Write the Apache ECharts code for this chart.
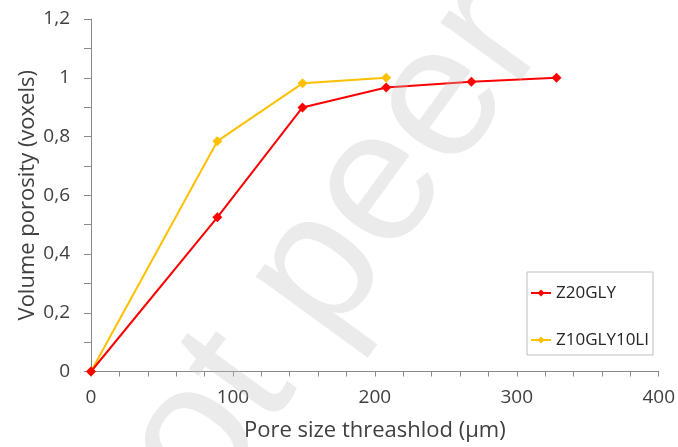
<!DOCTYPE html>
<html>
<head>
<meta charset="utf-8">
<script src="https://cdn.jsdelivr.net/npm/echarts@6/dist/echarts.min.js"></script>
<style>
html,body{margin:0;padding:0;background:#fff;}
#chart{width:678px;height:447px;}
</style>
</head>
<body>
<div id="chart"></div>
<script>
var seriesNames = ['Z20GLY', 'Z10GLY10LI'];
var z20X = [0, 89, 149, 208, 268, 328];
var z20Y = [0, 0.525, 0.899, 0.967, 0.986, 1.0];
var z10X = [0, 89, 149, 208];
var z10Y = [0, 0.784, 0.981, 1.0];
var xTicks = [0, 100, 200, 300, 400];
var yTicks = [0, 0.2, 0.4, 0.6, 0.8, 1.0, 1.2];
var xTitle = 'Pore size threashlod (µm)';
var yTitle = 'Volume porosity (voxels)';
var watermark = 'Not peer reviewed';

function pairs(xs, ys) { return xs.map(function (x, i) { return [x, ys[i]]; }); }

var font = 'Open Sans';
var wmSize = 188;
var chart = echarts.init(document.getElementById('chart'), null, {renderer: 'canvas'});
chart.setOption({
  animation: false,
  backgroundColor: '#ffffff',
  textStyle: {fontFamily: font},
  grid: {left: 91, right: 15, top: 19, bottom: 74.5, containLabel: false},
  legend: {
    orient: 'vertical',
    left: 527, top: 272,
    padding: [11, 4, 5, 3],
    itemGap: 27,
    itemWidth: 20, itemHeight: 9,
    borderColor: '#bfbfbf', borderWidth: 1,
    textStyle: {fontFamily: font, fontSize: 17, color: '#262626', lineHeight: 20},
    data: seriesNames
  },
  xAxis: {
    type: 'value', min: xTicks[0], max: xTicks[xTicks.length - 1], interval: 100,
    name: xTitle, nameLocation: 'middle', nameGap: 48.5, nameMoveOverlap: false,
    nameTextStyle: {fontFamily: font, fontSize: 22, color: '#404040'},
    axisLine: {show: true, lineStyle: {color: '#898989', width: 1}},
    axisTick: {show: true, inside: false, length: 5, lineStyle: {color: '#898989'}},
    minorTick: {show: true, splitNumber: 5, length: 5, lineStyle: {color: '#898989'}},
    splitLine: {show: false},
    axisLabel: {fontFamily: font, fontSize: 19, color: '#404040', margin: 17}
  },
  yAxis: {
    type: 'value', min: yTicks[0], max: yTicks[yTicks.length - 1], interval: 0.2,
    name: yTitle, nameLocation: 'middle', nameGap: 52, nameRotate: 90, nameMoveOverlap: false,
    nameTextStyle: {fontFamily: font, fontSize: 22, color: '#404040'},
    axisLine: {show: true, lineStyle: {color: '#898989', width: 1}},
    axisTick: {show: true, inside: false, length: 7, lineStyle: {color: '#898989'}},
    minorTick: {show: true, splitNumber: 2, length: 7, lineStyle: {color: '#898989'}},
    splitLine: {show: false},
    axisLabel: {fontFamily: font, fontSize: 19, color: '#404040', margin: 21,
      formatter: function (v) { return String(Math.round(v * 10) / 10).replace('.', ','); }}
  },
  series: [
    {
      name: seriesNames[0], type: 'line', data: pairs(z20X, z20Y),
      symbol: 'diamond', symbolSize: 10,
      lineStyle: {color: '#ff0000', width: 2},
      itemStyle: {color: '#ff0000'}, z: 3
    },
    {
      name: seriesNames[1], type: 'line', data: pairs(z10X, z10Y),
      symbol: 'diamond', symbolSize: 10,
      lineStyle: {color: '#ffc000', width: 2},
      itemStyle: {color: '#ffc000'}, z: 2
    }
  ],
  graphic: [{
    type: 'text',
    x: 392, y: 197,
    rotation: 54 * Math.PI / 180,
    z: 100,
    silent: true,
    style: {
      text: watermark,
      x: -2.668 * wmSize, y: -16,
      fontFamily: 'Liberation Sans',
      fontSize: wmSize,
      textVerticalAlign: 'middle',
      fill: 'rgba(191,191,191,0.31)'
    }
  }]
});
</script>
</body>
</html>
